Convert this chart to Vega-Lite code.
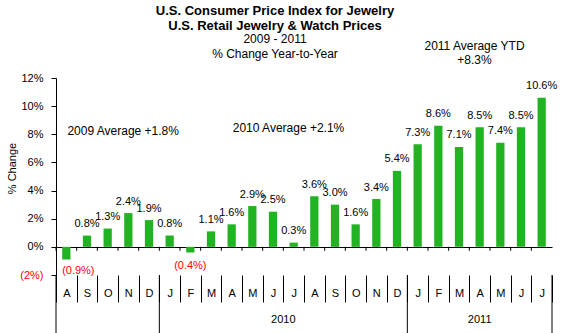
{
  "$schema": "https://vega.github.io/schema/vega-lite/v6.json",
  "width": 496,
  "height": 197,
  "autosize": {"type": "none"},
  "padding": {"left": 56, "top": 78, "right": 10, "bottom": 58},
  "background": "white",
  "config": {
    "view": {"stroke": null},
    "font": "Liberation Sans",
    "axis": {"labelFont": "Liberation Sans", "titleFont": "Liberation Sans", "titleFontWeight": "normal", "grid": false, "labelOverlap": false}
  },
  "title": {
    "text": ["U.S. Consumer Price Index for Jewelry", "U.S. Retail Jewelry & Watch Prices"],
    "subtitle": ["2009 - 2011", "% Change  Year-to-Year"],
    "anchor": "middle",
    "font": "Liberation Sans",
    "fontSize": 13,
    "fontWeight": "bold",
    "lineHeight": 15,
    "color": "black",
    "subtitleFont": "Liberation Sans",
    "subtitleFontSize": 12,
    "subtitleLineHeight": 15,
    "subtitleColor": "black",
    "subtitlePadding": 1,
    "dx": -29,
    "offset": -20
  },
  "datasets": {
    "bars": [
      {"m": "Aug 2009", "v": -0.009},
      {"m": "Sep 2009", "v": 0.008},
      {"m": "Oct 2009", "v": 0.013},
      {"m": "Nov 2009", "v": 0.024},
      {"m": "Dec 2009", "v": 0.019},
      {"m": "Jan 2010", "v": 0.008},
      {"m": "Feb 2010", "v": -0.004},
      {"m": "Mar 2010", "v": 0.011},
      {"m": "Apr 2010", "v": 0.016},
      {"m": "May 2010", "v": 0.029},
      {"m": "Jun 2010", "v": 0.025},
      {"m": "Jul 2010", "v": 0.003},
      {"m": "Aug 2010", "v": 0.036},
      {"m": "Sep 2010", "v": 0.030},
      {"m": "Oct 2010", "v": 0.016},
      {"m": "Nov 2010", "v": 0.034},
      {"m": "Dec 2010", "v": 0.054},
      {"m": "Jan 2011", "v": 0.073},
      {"m": "Feb 2011", "v": 0.086},
      {"m": "Mar 2011", "v": 0.071},
      {"m": "Apr 2011", "v": 0.085},
      {"m": "May 2011", "v": 0.074},
      {"m": "Jun 2011", "v": 0.085},
      {"m": "Jul 2011", "v": 0.106}
    ],
    "notes": [
      {"m": "Nov 2009", "y": 0.082, "t": "2009 Average +1.8%"},
      {"m": "Jul 2010", "y": 0.0845, "t": "2010 Average +2.1%"},
      {"m": "Apr 2011", "y": 0.143, "t": "2011 Average YTD"},
      {"m": "Apr 2011", "y": 0.133, "t": "+8.3%"}
    ],
    "years": [
      {"m": "Jul 2010", "t": "2010"},
      {"m": "Apr 2011", "t": "2011"}
    ],
    "yseps": [
      {"m": "Aug 2009"},
      {"m": "Jan 2010"},
      {"m": "Jan 2011"}
    ]
  },
  "layer": [
    {
      "data": {"name": "bars"},
      "mark": {"type": "bar", "color": "#22B322", "width": {"band": 0.4}},
      "encoding": {
        "x": {
          "field": "m",
          "type": "ordinal",
          "sort": null,
          "scale": {
            "domain": ["Aug 2009","Sep 2009","Oct 2009","Nov 2009","Dec 2009","Jan 2010","Feb 2010","Mar 2010","Apr 2010","May 2010","Jun 2010","Jul 2010","Aug 2010","Sep 2010","Oct 2010","Nov 2010","Dec 2010","Jan 2011","Feb 2011","Mar 2011","Apr 2011","May 2011","Jun 2011","Jul 2011"],
            "paddingInner": 0,
            "paddingOuter": 0
          },
          "axis": {
            "orient": "bottom",
            "title": null,
            "domain": false,
            "tickBand": "extent",
            "tickSize": 27,
            "tickColor": "black",
            "labelPadding": -15,
            "labelAngle": 0,
            "labelOverlap": false,
            "labelExpr": "datum.extra ? '' : substring(datum.value, 0, 1)",
            "labelFontSize": 11,
            "labelColor": "black"
          }
        },
        "y": {
          "field": "v",
          "type": "quantitative",
          "scale": {"domain": [-0.02, 0.12], "nice": false, "zero": false},
          "axis": {
            "title": "% Change",
            "titleFontSize": 11,
            "titleColor": "black",
            "titleAngle": 270,
            "titleAlign": "center",
            "titleBaseline": "middle",
            "titleX": -44,
            "titleY": 90,
            "values": [-0.02, 0, 0.02, 0.04, 0.06, 0.08, 0.1, 0.12],
            "tickCount": 30,
            "format": "(.0%",
            "labelOverlap": false,
            "tickSize": 5,
            "tickColor": "black",
            "domainColor": "black",
            "labelPadding": 8,
            "labelFontSize": 11,
            "labelColor": {"condition": {"test": "datum.value < 0", "value": "#FF0000"}, "value": "black"},
            "grid": true,
            "gridColor": {"condition": {"test": "datum.value === 0", "value": "black"}, "value": "rgba(0,0,0,0)"}
          }
        }
      }
    },
    {
      "data": {"name": "bars"},
      "transform": [{"filter": "datum.v >= 0"}],
      "mark": {"type": "text", "baseline": "alphabetic", "dy": -8.5, "fontSize": 11, "color": "black"},
      "encoding": {
        "x": {"field": "m", "type": "ordinal", "sort": null},
        "y": {"field": "v", "type": "quantitative"},
        "text": {"field": "v", "type": "quantitative", "format": "(.1%"}
      }
    },
    {
      "data": {"name": "bars"},
      "transform": [{"filter": "datum.m == 'Aug 2009'"}],
      "mark": {"type": "text", "baseline": "top", "dy": 5, "dx": 12, "fontSize": 11, "color": "#FF0000"},
      "encoding": {
        "x": {"field": "m", "type": "ordinal", "sort": null},
        "y": {"field": "v", "type": "quantitative"},
        "text": {"field": "v", "type": "quantitative", "format": "(.1%"}
      }
    },
    {
      "data": {"name": "bars"},
      "transform": [{"filter": "datum.v < 0 && datum.m != 'Aug 2009'"}],
      "mark": {"type": "text", "baseline": "top", "dy": 8, "fontSize": 11, "color": "#FF0000"},
      "encoding": {
        "x": {"field": "m", "type": "ordinal", "sort": null},
        "y": {"field": "v", "type": "quantitative"},
        "text": {"field": "v", "type": "quantitative", "format": "(.1%"}
      }
    },
    {
      "data": {"name": "bars"},
      "mark": {"type": "rule", "color": "black", "strokeWidth": 1},
      "encoding": {
        "x": {"field": "m", "type": "ordinal", "sort": null, "bandPosition": 0},
        "y": {"datum": -0.0028, "type": "quantitative"},
        "y2": {"datum": 0.00001}
      }
    },
    {
      "data": {"name": "bars"},
      "transform": [{"filter": "datum.m == 'Jul 2011'"}],
      "mark": {"type": "rule", "color": "black", "strokeWidth": 1},
      "encoding": {
        "x": {"field": "m", "type": "ordinal", "sort": null, "bandPosition": 1},
        "y": {"datum": -0.02, "type": "quantitative"},
        "y2": {"datum": -0.075}
      }
    },
    {
      "data": {"name": "yseps"},
      "mark": {"type": "rule", "color": "black", "strokeWidth": 1},
      "encoding": {
        "x": {"field": "m", "type": "ordinal", "sort": null, "bandPosition": 0},
        "y": {"datum": -0.02, "type": "quantitative"},
        "y2": {"datum": -0.075}
      }
    },
    {
      "data": {"name": "years"},
      "transform": [{"filter": "datum.t == '2010'"}],
      "mark": {"type": "text", "baseline": "middle", "fontSize": 11, "color": "black"},
      "encoding": {
        "x": {"field": "m", "type": "ordinal", "sort": null, "bandPosition": 0},
        "y": {"datum": -0.052, "type": "quantitative"},
        "text": {"field": "t"}
      }
    },
    {
      "data": {"name": "years"},
      "transform": [{"filter": "datum.t == '2011'"}],
      "mark": {"type": "text", "baseline": "middle", "fontSize": 11, "color": "black"},
      "encoding": {
        "x": {"field": "m", "type": "ordinal", "sort": null},
        "y": {"datum": -0.052, "type": "quantitative"},
        "text": {"field": "t"}
      }
    },
    {
      "data": {"name": "notes"},
      "mark": {"type": "text", "baseline": "middle", "fontSize": 12, "color": "black"},
      "encoding": {
        "x": {"field": "m", "type": "ordinal", "sort": null, "bandPosition": 0.25},
        "y": {"field": "y", "type": "quantitative"},
        "text": {"field": "t"}
      }
    }
  ]
}
